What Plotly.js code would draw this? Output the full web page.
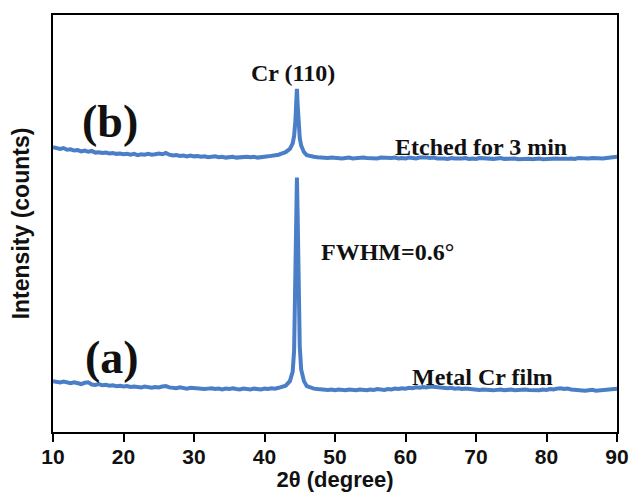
<!DOCTYPE html>
<html>
<head>
<meta charset="utf-8">
<script src="https://cdn.plot.ly/plotly-3.0.1.min.js"></script>
<style>html,body{margin:0;padding:0;background:#fff;}#chart{width:631px;height:492px;}</style>
</head>
<body>
<div id="chart"></div>
<script>
// 2-theta positions (degree)
const twoTheta = [
  10.0,10.5,11.0,11.5,12.0,12.5,13.0,13.5,14.0,14.5,
  15.0,15.5,16.0,16.5,17.0,17.5,18.0,18.5,19.0,19.5,
  20.0,20.5,21.0,21.5,22.0,22.5,23.0,23.5,24.0,24.5,
  25.0,25.5,26.0,26.5,27.0,27.5,28.0,28.5,29.0,29.5,
  30.0,30.5,31.0,31.5,32.0,32.5,33.0,33.5,34.0,34.5,
  35.0,35.5,36.0,36.5,37.0,37.5,38.0,38.5,39.0,39.5,
  40.0,40.5,41.0,41.5,42.0,42.5,43.0,
  43.6,44.0,44.2,44.3,44.4,44.5,44.6,44.7,44.8,44.9,45.0,45.2,45.6,46.0,
  46.5,47.0,47.5,48.0,48.5,49.0,49.5,50.0,50.5,51.0,
  51.5,52.0,52.5,53.0,53.5,54.0,54.5,55.0,55.5,56.0,
  56.5,57.0,57.5,58.0,58.5,59.0,59.5,60.0,60.5,61.0,
  61.5,62.0,62.5,63.0,63.5,64.0,64.5,65.0,65.5,66.0,
  66.5,67.0,67.5,68.0,68.5,69.0,69.5,70.0,70.5,71.0,
  71.5,72.0,72.5,73.0,73.5,74.0,74.5,75.0,75.5,76.0,
  76.5,77.0,77.5,78.0,78.5,79.0,79.5,80.0,80.5,81.0,
  81.5,82.0,82.5,83.0,83.5,84.0,84.5,85.0,85.5,86.0,
  86.5,87.0,87.5,88.0,88.5,89.0,89.5,90.0
];

// (a) Metal Cr film (offset intensity, a.u.)
const metalCr = [
  12.2,12.0,11.9,12.1,11.8,11.7,11.9,11.6,11.5,11.8,
  11.9,11.4,11.3,11.5,11.2,11.3,11.1,11.2,11.0,11.1,
  10.9,11.0,10.8,10.9,10.8,10.7,10.9,10.7,10.6,10.8,
  10.7,10.9,11.0,10.7,10.6,10.5,10.7,10.5,10.4,10.6,
  10.5,10.4,10.5,10.3,10.4,10.5,10.3,10.4,10.2,10.4,
  10.3,10.5,10.3,10.2,10.4,10.3,10.2,10.4,10.3,10.2,
  10.4,10.3,10.5,10.4,10.6,10.8,11.1,
  12.2,14.5,19.5,27.5,39.0,53.0,61.0,52.0,39.0,27.5,20.5,15.0,12.2,11.0,
  10.6,10.4,10.3,10.2,10.3,10.1,10.2,10.0,10.2,10.1,
  10.0,10.2,10.1,10.0,10.2,10.1,10.0,10.2,10.1,10.3,
  10.2,10.1,10.3,10.2,10.4,10.3,10.5,10.4,10.6,10.5,
  10.7,10.6,10.8,10.7,10.9,10.8,10.7,10.8,10.6,10.5,
  10.6,10.4,10.5,10.3,10.4,10.3,10.2,10.3,10.1,10.2,
  10.1,10.2,10.0,10.1,10.2,10.0,10.1,10.2,10.0,10.1,
  10.0,10.2,10.1,10.0,10.1,10.0,10.2,10.1,10.3,10.2,
  10.4,10.5,10.3,10.4,10.2,10.1,10.0,10.1,9.9,10.0,
  10.1,9.9,10.0,10.2,10.1,10.2,10.3,10.4
];

// (b) Etched for 3 min (offset intensity, a.u.)
const etched3min = [
  68.3,68.0,67.9,68.1,67.7,67.8,67.5,67.6,67.3,67.5,
  67.2,67.4,67.0,67.1,66.9,67.0,66.8,66.9,66.7,66.8,
  66.6,66.7,66.5,66.7,66.4,66.6,66.5,66.7,66.5,66.6,
  66.8,66.6,66.9,66.5,66.3,66.4,66.2,66.3,66.1,66.3,
  66.1,66.2,66.0,66.1,65.9,66.0,66.1,65.9,66.0,65.8,
  65.9,66.0,65.8,65.9,65.8,66.0,65.9,66.0,65.8,66.0,
  66.0,66.1,66.2,66.3,66.5,66.8,67.1,
  67.9,69.2,71.0,72.5,75.0,79.0,82.3,78.5,74.5,72.2,70.5,68.7,67.1,66.4,
  66.1,66.0,65.9,65.8,65.9,65.7,65.8,65.7,65.8,65.6,
  65.7,65.8,65.6,65.7,65.6,65.8,65.7,65.6,65.7,65.6,
  65.8,65.7,65.6,65.7,65.8,65.6,65.7,65.6,65.8,65.7,
  65.6,65.8,65.9,65.8,65.7,65.8,65.6,65.7,65.6,65.5,
  65.7,65.6,65.5,65.6,65.7,65.5,65.6,65.5,65.7,65.6,
  65.5,65.6,65.5,65.6,65.7,65.5,65.6,65.5,65.6,65.4,
  65.5,65.6,65.5,65.4,65.5,65.6,65.4,65.5,65.4,65.5,
  65.6,65.5,65.4,65.5,65.6,65.5,65.7,65.6,65.5,65.6,
  65.7,65.6,65.7,65.6,65.7,65.8,65.9,66.0
];

const xTickVals = [10,20,30,40,50,60,70,80,90];
const xTickText = ["10","20","30","40","50","60","70","80","90"];

const lineColor = "#4A7EC7";
const serif = "Liberation Serif, Times New Roman, serif";
const sans = "Liberation Sans, Arial, sans-serif";

const traces = [
  {x: twoTheta, y: metalCr, type: "scatter", mode: "lines", name: "Metal Cr film",
   line: {color: lineColor, width: 4}, hoverinfo: "skip"},
  {x: twoTheta, y: etched3min, type: "scatter", mode: "lines", name: "Etched for 3 min",
   line: {color: lineColor, width: 4}, hoverinfo: "skip"}
];

function ann(text, x, y, size) {
  return {text: text, x: x, y: y, xref: "x", yref: "y", showarrow: false,
    xanchor: "center", yanchor: "middle",
    font: {family: serif, size: size, color: "#111", weight: "bold"}};
}

const layout = {
  width: 631, height: 492,
  margin: {l: 53, r: 14, t: 15, b: 60},
  paper_bgcolor: "#fff", plot_bgcolor: "#fff",
  showlegend: false,
  xaxis: {
    range: [10, 90], tickvals: xTickVals, ticktext: xTickText,
    ticks: "outside", ticklen: 8, tickwidth: 2, tickcolor: "#000",
    ticklabelstandoff: -3,
    showline: true, linecolor: "#000", linewidth: 2, mirror: true,
    showgrid: false, zeroline: false,
    tickfont: {family: sans, size: 21, color: "#111", weight: "bold"},
    title: {text: "2θ (degree)", standoff: 4,
      font: {family: sans, size: 22, color: "#111", weight: "bold"}}
  },
  yaxis: {
    range: [0, 100], showticklabels: false, ticks: "",
    showline: true, linecolor: "#000", linewidth: 2, mirror: true,
    showgrid: false, zeroline: false,
    title: {text: "Intensity (counts)", standoff: 15,
      font: {family: sans, size: 23, color: "#111", weight: "bold"}}
  },
  annotations: [
    ann("Cr (110)", 44.0, 86.0, 24),
    ann("(b)", 18.1, 74.5, 46),
    ann("Etched for 3 min", 70.7, 68.4, 24),
    ann("FWHM=0.6°", 57.5, 43.2, 24),
    ann("(a)", 18.4, 17.8, 46),
    ann("Metal Cr film", 70.9, 13.3, 24)
  ]
};

Plotly.newPlot("chart", traces, layout, {displayModeBar: false, staticPlot: true});
</script>
</body>
</html>
